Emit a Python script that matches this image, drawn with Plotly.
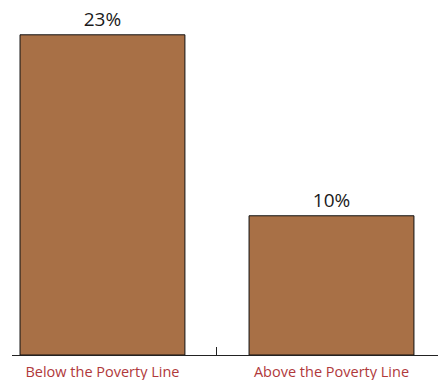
import plotly.graph_objects as go

categories = ["Below the Poverty Line", "Above the Poverty Line"]
values = [23, 10]
value_labels = ["23%", "10%"]

fig = go.Figure(go.Bar(
    x=categories, y=values, text=value_labels, textposition="outside",
    width=0.72,
    marker=dict(color="#A87046", line=dict(color="#111111", width=1)),
    textfont=dict(family="Open Sans", size=19, color="#1a1a1a"),
    cliponaxis=False,
))
fig.update_layout(
    width=438, height=380,
    margin=dict(l=12, r=0, t=0, b=25),
    plot_bgcolor="white", paper_bgcolor="white",
    showlegend=False,
    xaxis=dict(
        type="category", range=[-0.395, 1.465],
        tickson="boundaries", ticks="inside", ticklen=8, tickcolor="#222", tickwidth=1,
        showline=True, linecolor="#222", linewidth=1,
        tickfont=dict(family="Open Sans", size=14.5, color="#B0393B"),
        ticklabelstandoff=4,
        showgrid=False,
    ),
    yaxis=dict(range=[0, 25.5], visible=False, showgrid=False),
)
fig.write_html("out.html")
